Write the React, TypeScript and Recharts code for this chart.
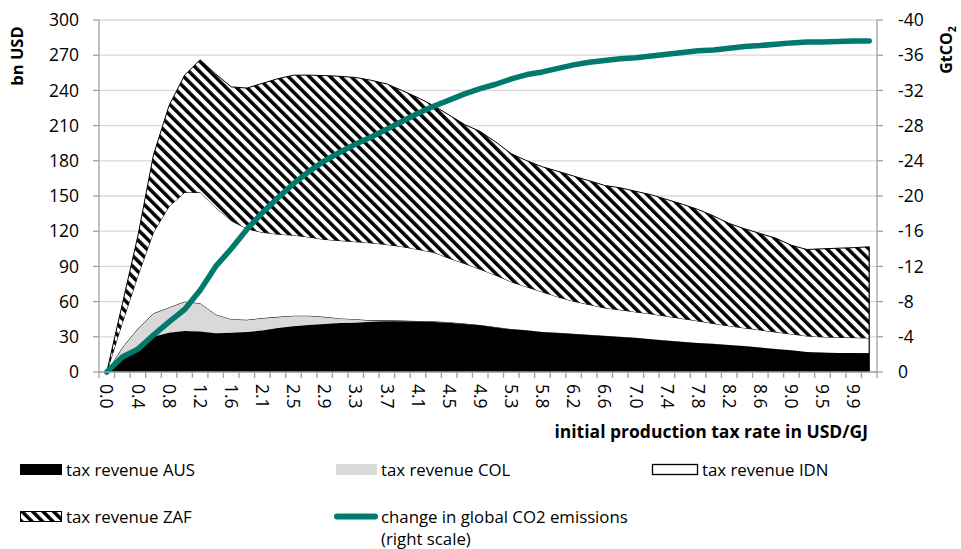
import React from 'react';
import { ComposedChart, Area, Line, XAxis, YAxis, CartesianGrid, ReferenceLine } from 'recharts';

const categories = [
  '0.0', '0.2', '0.4', '0.6', '0.8', '1.0', '1.2', '1.4', '1.6', '1.9',
  '2.1', '2.3', '2.5', '2.7', '2.9', '3.1', '3.3', '3.5', '3.7', '3.9',
  '4.1', '4.3', '4.5', '4.7', '4.9', '5.1', '5.3', '5.6', '5.8', '6.0',
  '6.2', '6.4', '6.6', '6.8', '7.0', '7.2', '7.4', '7.6', '7.8', '8.0',
  '8.2', '8.4', '8.6', '8.8', '9.0', '9.3', '9.5', '9.7', '9.9', '10.1',
];

const ausRevenue = [
  0, 14, 21, 30, 33.4, 35, 34.6, 33, 33.4, 34,
  35.4, 37.4, 39, 40, 41, 41.7, 42, 42.8, 43.2, 43.2,
  43, 42.7, 42, 41, 39.8, 38, 36.4, 35.3, 34, 33.3,
  32.4, 31.6, 30.7, 29.9, 29, 27.9, 26.7, 25.6, 24.7, 23.9,
  23, 22, 20.8, 19.6, 18.5, 17, 16.5, 16.2, 16.2, 16,
];

const colRevenue = [
  0, 7, 16, 20, 21.6, 25, 24, 16, 11.6, 10.5,
  10.6, 9.6, 9, 8, 6, 4, 3, 1.2, 0.8, 0.6,
  0.5, 0.5, 0.5, 0.4, 0.3, 0.3, 0.2, 0.2, 0.1, 0.1,
  0.1, 0.1, 0.1, 0.1, 0.1, 0.1, 0.1, 0.1, 0.1, 0.1,
  0.1, 0.1, 0.1, 0.1, 0.1, 0.1, 0.1, 0.1, 0.1, 0.1,
];

const idnRevenue = [
  0, 21, 45, 69, 86, 93, 94.5, 91, 84, 77.5,
  73, 70.5, 68.6, 67, 66, 66.3, 66, 66, 64.7, 63,
  61, 58.8, 54.5, 51, 47.5, 44.2, 40.2, 37, 34.1, 30.6,
  27.8, 25.8, 23.8, 23, 22.1, 21.5, 20.7, 19.8, 18.7, 17.3,
  16.2, 15.4, 14.9, 14.3, 13.8, 13.6, 13.3, 13.3, 13, 12.9,
];

const zafRevenue = [
  0, 16, 34, 66, 86, 100, 113, 114, 114, 120,
  127, 132.5, 136.4, 138, 139.6, 140, 140, 138.6, 136.8, 133,
  129.3, 125, 122, 118.5, 117.4, 113.5, 109.2, 107.5, 106.7, 107,
  106.7, 105.5, 104.4, 104, 102.8, 101.5, 99.5, 97.5, 95, 91.7,
  87.3, 84.5, 82.2, 80, 75.6, 73.7, 75.1, 75.9, 76.7, 77.7,
];

const co2Change = [
  0, -1.7, -2.6, -4.2, -5.7, -7.1, -9.3, -12.0, -14.0, -16.2,
  -18.1, -19.8, -21.4, -22.8, -24.0, -25.0, -25.9, -26.7, -27.6, -28.5,
  -29.4, -30.2, -30.9, -31.6, -32.2, -32.7, -33.3, -33.8, -34.1, -34.5,
  -34.9, -35.2, -35.4, -35.6, -35.7, -35.9, -36.1, -36.3, -36.5, -36.6,
  -36.8, -37.0, -37.1, -37.25, -37.4, -37.5, -37.5, -37.55, -37.6, -37.6,
];

const leftTicks = [0, 30, 60, 90, 120, 150, 180, 210, 240, 270, 300];
const rightTicks = [0, -4, -8, -12, -16, -20, -24, -28, -32, -36, -40];

const data = categories.map((rate, i) => ({
  rate,
  AUS: ausRevenue[i],
  COL: colRevenue[i],
  IDN: idnRevenue[i],
  ZAF: zafRevenue[i],
  CO2: co2Change[i],
}));

const lastIndex = categories.length - 1;
const lastTotal = ausRevenue[lastIndex] + colRevenue[lastIndex] + idnRevenue[lastIndex] + zafRevenue[lastIndex];

const W = 961;
const H = 549;
const MARGIN = { top: 20, right: 24, bottom: 117, left: 39 };
const Y_W = 60;
const PLOT_LEFT = MARGIN.left + Y_W;
const PLOT_RIGHT = W - MARGIN.right - Y_W;
const BAND = (PLOT_RIGHT - PLOT_LEFT) / categories.length;

const FONT = '"Open Sans", sans-serif';
const AXIS = '#A0A0A0';
const GRID = '#D9D9D9';
const TEAL = '#007A6C';
const TICK_FS = 17.5;

function XTick(props: any) {
  const { x, y, payload, index } = props;
  const left = x - BAND / 2;
  const isLast = index === categories.length - 1;
  return (
    <g>
      <line x1={left} x2={left} y1={y} y2={y + 6} stroke={AXIS} strokeWidth={1.3} />
      {isLast && <line x1={left + BAND} x2={left + BAND} y1={y} y2={y + 6} stroke={AXIS} strokeWidth={1.3} />}
      {index % 2 === 0 && (
        <text
          x={0}
          y={0}
          transform={`translate(${x},${y + 12}) rotate(90)`}
          dy="0.36em"
          textAnchor="start"
          fontSize={TICK_FS}
          fontFamily={FONT}
          fill="#000"
        >
          {payload.value}
        </text>
      )}
    </g>
  );
}

function HatchDefs({ id }: { id: string }) {
  return (
    <pattern id={id} patternUnits="userSpaceOnUse" width={7.4} height={7.4} patternTransform="rotate(-45)">
      <rect x={0} y={0} width={7.4} height={7.4} fill="#fff" />
      <rect x={0} y={0} width={3.5} height={7.4} fill="#000" />
    </pattern>
  );
}

export default function App() {
  const legendFs = 16.8;
  return (
    <div style={{ position: 'absolute', left: 0, top: 0, width: W, height: H, background: '#fff', fontFamily: FONT }}>
      <ComposedChart width={W} height={H} data={data} margin={MARGIN}>
        <defs>
          <HatchDefs id="zafHatch" />
        </defs>
        <CartesianGrid vertical={false} stroke={GRID} strokeWidth={1.3} />
        <XAxis
          dataKey="rate"
          type="category"
          scale="band"
          interval={0}
          tickLine={false}
          tickSize={0}
          tickMargin={0}
          tick={<XTick />}
          axisLine={{ stroke: AXIS, strokeWidth: 1.3 }}
          height={60}
        />
        <YAxis
          domain={[0, 300]}
          ticks={leftTicks}
          interval={0}
          width={Y_W}
          tickSize={6}
          tickMargin={14}
          tickLine={{ stroke: AXIS, strokeWidth: 1.3 }}
          axisLine={{ stroke: AXIS, strokeWidth: 1.3 }}
          tick={{ fontSize: TICK_FS, fill: '#000', fontFamily: FONT }}
        />
        <YAxis
          yAxisId="right"
          orientation="right"
          domain={[-40, 0]}
          reversed
          ticks={rightTicks}
          interval={0}
          width={Y_W}
          tickSize={6}
          tickMargin={15}
          tickLine={{ stroke: AXIS, strokeWidth: 1.3 }}
          axisLine={{ stroke: AXIS, strokeWidth: 1.3 }}
          tick={{ fontSize: TICK_FS, fill: '#000', fontFamily: FONT, textAnchor: 'start' }}
        />
        <Area type="linear" dataKey="AUS" stackId="rev" fill="#000" fillOpacity={1} stroke="#000" strokeWidth={1} dot={false} activeDot={false} isAnimationActive={false} />
        <Area type="linear" dataKey="COL" stackId="rev" fill="#D9D9D9" fillOpacity={1} stroke="#000" strokeWidth={1} dot={false} activeDot={false} isAnimationActive={false} />
        <Area type="linear" dataKey="IDN" stackId="rev" fill="#fff" fillOpacity={1} stroke="#000" strokeWidth={1} dot={false} activeDot={false} isAnimationActive={false} />
        <Area type="linear" dataKey="ZAF" stackId="rev" fill="url(#zafHatch)" fillOpacity={1} stroke="#000" strokeWidth={1} dot={false} activeDot={false} isAnimationActive={false} />
        <ReferenceLine
          segment={[{ x: categories[lastIndex], y: 0 }, { x: categories[lastIndex], y: lastTotal }]}
          stroke="#000"
          strokeWidth={1.2}
        />
        <Line
          type="linear"
          yAxisId="right"
          dataKey="CO2"
          stroke={TEAL}
          strokeWidth={5.5}
          strokeLinecap="round"
          strokeLinejoin="round"
          dot={false}
          activeDot={false}
          isAnimationActive={false}
        />
      </ComposedChart>
      <svg width={W} height={H} style={{ position: 'absolute', left: 0, top: 0, pointerEvents: 'none' }}>
        <defs>
          <HatchDefs id="zafHatchLegend" />
        </defs>
        <text transform="translate(17.5,56) rotate(-90)" textAnchor="middle" dy="0.35em" fontSize={16.5} fontWeight="bold" fontFamily={FONT} fill="#000">
          bn USD
        </text>
        <text transform="translate(946,50) rotate(-90)" textAnchor="middle" dy="0.35em" fontSize={16} fontWeight="bold" fontFamily={FONT} fill="#000">
          <tspan>GtCO</tspan>
          <tspan fontSize={10.5} dy={4}>2</tspan>
        </text>
        <text x={868} y={438} textAnchor="end" fontSize={17.5} fontWeight="bold" fontFamily={FONT} fill="#000">
          initial production tax rate in USD/GJ
        </text>

        <rect x={20} y={464} width={42} height={11} fill="#000" />
        <text x={66} y={476} fontSize={legendFs} fontFamily={FONT} fill="#000">tax revenue AUS</text>

        <rect x={336} y={464} width={41} height={11} fill="#D9D9D9" />
        <text x={381} y={476} fontSize={legendFs} fontFamily={FONT} fill="#000">tax revenue COL</text>

        <rect x={652.5} y={464.5} width={45} height={10} fill="#fff" stroke="#000" strokeWidth={1.3} />
        <text x={702} y={476} fontSize={legendFs} fontFamily={FONT} fill="#000">tax revenue IDN</text>

        <rect x={20.5} y={511.5} width={41} height={10} fill="url(#zafHatchLegend)" stroke="#000" strokeWidth={1} />
        <text x={66} y={522.5} fontSize={legendFs} fontFamily={FONT} fill="#000">tax revenue ZAF</text>

        <line x1={337} x2={375} y1={516.5} y2={516.5} stroke={TEAL} strokeWidth={6} strokeLinecap="round" />
        <text x={381} y={522.5} fontSize={legendFs} fontFamily={FONT} fill="#000">change in global CO2 emissions</text>
        <text x={381} y={545} fontSize={legendFs} fontFamily={FONT} fill="#000">(right scale)</text>
      </svg>
    </div>
  );
}
